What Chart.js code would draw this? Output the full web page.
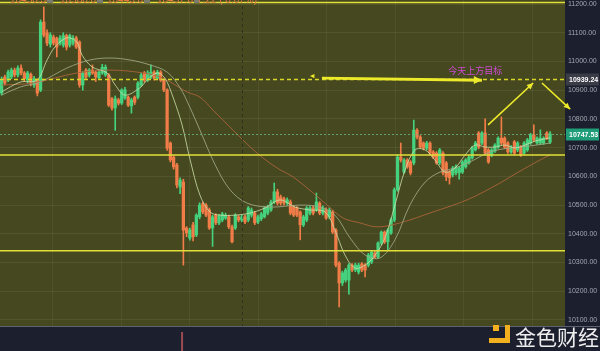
<!DOCTYPE html>
<html>
<head>
<meta charset="utf-8">
<script src="https://cdn.jsdelivr.net/npm/chart.js@4.4.0/dist/chart.umd.min.js"></script>
<style>
html,body{margin:0;padding:0;background:#1c1f2d;}
canvas{display:block;}
</style>
</head>
<body>
<canvas id="kline" width="600" height="351"></canvas>
<script>
// candle data, one entry per bar
let OPEN = [10890,10946,10935,10946,10970,10953,10977,10960,10935,10955,10918,10935,10900,11137,11100,11060,11085,11080,11064,11057,
  11090,11057,11064,11082,11068,10918,10970,10953,10970,10963,10943,10960,10953,10953,10870,10838,10866,10855,10873,10876,
  10845,10876,10876,10918,10960,10935,10946,10963,10942,10963,10935,10901,10716,10667,10640,10563,10580,10420,10385,10431,
  10396,10459,10505,10500,10483,10420,10465,10438,10448,10455,10459,10424,10420,10459,10448,10459,10448,10465,10472,10441,
  10452,10459,10472,10483,10511,10546,10528,10522,10507,10511,10493,10490,10476,10431,10448,10472,10490,10483,10507,10472,
  10483,10459,10476,10413,10298,10229,10239,10239,10291,10274,10267,10295,10291,10291,10302,10333,10319,10368,10406,10372,
  10403,10448,10553,10667,10615,10657,10650,10647,10761,10737,10716,10698,10716,10685,10681,10647,10681,10647,10615,10605,
  10612,10612,10615,10633,10647,10664,10692,10751,10716,10751,10692,10674,10688,10702,10733,10733,10716,10685,10720,10692,
  10702,10681,10692,10716,10744,10716,10716,10716,10751,10719];
let HIGH = [10946,10953,10970,10977,10977,10985,10988,10965,10966,10960,10948,10940,11145,11190,11110,11100,11092,11085,11090,11100,
  11095,11095,11090,11088,11072,10965,10975,10975,10988,10968,10968,10990,10988,10958,10875,10880,10872,10905,10910,10880,
  10872,10880,10930,10960,10965,10968,10988,10968,10970,10968,10940,10905,10720,10672,10645,10595,10590,10425,10420,10440,
  10470,10508,10510,10505,10490,10465,10470,10468,10475,10472,10465,10430,10470,10465,10465,10465,10495,10490,10478,10465,
  10475,10495,10500,10517,10577,10555,10535,10528,10525,10518,10498,10495,10480,10465,10495,10497,10497,10542,10512,10497,
  10490,10490,10482,10418,10303,10270,10280,10296,10296,10298,10298,10300,10296,10332,10342,10338,10372,10410,10410,10418,
  10455,10560,10675,10716,10662,10662,10655,10796,10766,10742,10720,10722,10720,10690,10686,10697,10686,10652,10620,10635,
  10640,10635,10655,10662,10672,10705,10722,10756,10756,10800,10697,10697,10714,10738,10807,10738,10721,10707,10725,10721,
  10707,10721,10732,10750,10779,10738,10762,10738,10756,10756];
let LOW = [10883,10918,10930,10940,10946,10946,10953,10930,10925,10915,10910,10880,10895,11085,11055,11050,11057,11016,11057,11050,
  11040,11050,11057,11045,10910,10900,10940,10946,10955,10930,10938,10955,10948,10843,10830,10760,10848,10850,10868,10843,
  10820,10850,10870,10912,10928,10930,10940,10935,10938,10930,10895,10690,10650,10625,10560,10540,10291,10390,10378,10375,
  10390,10452,10470,10460,10415,10356,10432,10432,10442,10450,10418,10368,10415,10442,10442,10435,10442,10458,10432,10435,
  10446,10455,10466,10478,10505,10500,10500,10500,10500,10466,10460,10460,10379,10425,10442,10466,10466,10478,10466,10466,
  10450,10452,10400,10285,10145,10220,10232,10190,10268,10268,10260,10268,10250,10285,10296,10314,10314,10362,10366,10345,
  10398,10442,10548,10650,10610,10628,10605,10640,10730,10698,10692,10692,10675,10662,10642,10640,10605,10585,10573,10598,
  10605,10590,10610,10628,10642,10660,10688,10696,10710,10675,10645,10668,10683,10697,10710,10697,10680,10680,10676,10686,
  10669,10676,10687,10711,10722,10711,10711,10711,10728,10714];
let CLOSE = [10935,10925,10963,10970,10953,10977,10960,10940,10960,10925,10940,10890,11137,11092,11064,11092,11064,11050,11082,11090,
  11050,11090,11082,11050,10918,10960,10946,10970,10960,10946,10963,10980,10980,10848,10838,10870,10855,10901,10901,10848,
  10866,10858,10925,10953,10935,10960,10963,10942,10963,10935,10901,10698,10657,10633,10570,10587,10413,10403,10413,10390,
  10465,10500,10476,10465,10420,10459,10438,10462,10469,10465,10424,10372,10465,10448,10459,10441,10490,10483,10438,10459,
  10469,10490,10493,10511,10546,10507,10507,10507,10518,10472,10465,10465,10431,10459,10490,10490,10472,10511,10472,10490,
  10455,10483,10406,10291,10229,10264,10274,10291,10274,10291,10291,10274,10274,10326,10336,10319,10368,10406,10372,10413,
  10448,10553,10667,10657,10657,10633,10612,10761,10737,10702,10698,10716,10681,10667,10647,10692,10612,10598,10595,10629,
  10633,10629,10650,10657,10667,10699,10716,10702,10751,10681,10650,10692,10709,10733,10716,10702,10685,10702,10681,10716,
  10674,10716,10727,10744,10727,10733,10733,10733,10733,10748];

// moving averages, read at a few points along each curve (bar index, price)
let MA_FAST = [[0,10894],[5.7,10928],[10.9,10935],[14,11005],[16.4,11050],[20.1,11082],[23.2,11068],[24.8,11022],[27.9,10981],
  [32.5,10960],[35,10918],[38,10883],[42.6,10908],[44.8,10935],[47.9,10960],[50.3,10942],[52.8,10876],[55.6,10779],[58.1,10657],
  [61.1,10535],[64.2,10476],[67.3,10465],[71.9,10465],[76.5,10472],[81.2,10490],[85.8,10518],[90.4,10493],[95,10483],[99.7,10476],
  [102.7,10413],[105.8,10326],[108.9,10281],[112,10291],[115.1,10326],[118.1,10385],[121.2,10500],[124.3,10622],[127.4,10692],
  [130.5,10692],[133.5,10657],[136.6,10615],[139.7,10629],[142.8,10674],[145.9,10709],[149,10702],[152,10702],[155.1,10709],
  [158.2,10699],[161.3,10709],[164.4,10723],[169,10734]];
let MA_MID = [[0,10883],[5.7,10911],[11.8,10928],[20.1,10977],[27.2,11005],[33.4,11012],[39.6,11005],[45.7,10988],[51,10963],
  [55,10908],[58.1,10838],[61.1,10761],[65.8,10640],[70.4,10553],[75.6,10507],[82.7,10493],[92,10500],[98.1,10493],[102.7,10465],
  [107.4,10385],[112,10326],[116.6,10316],[121.2,10379],[125.8,10500],[130.5,10580],[135.1,10615],[139.7,10629],[144.3,10650],
  [150.5,10685],[156.7,10699],[162.8,10706],[169,10716]];
let MA_SLOW = [[0,10918],[9.7,10925],[23.2,10960],[33.4,10970],[43.6,10960],[49.7,10942],[57.1,10894],[61.1,10876],[65.1,10831],
  [71.3,10761],[78.7,10681],[84.9,10629],[89.8,10598],[96,10542],[100.3,10500],[105.2,10455],[110.4,10438],[115.7,10424],
  [122.8,10438],[132.9,10476],[143.4,10518],[153.6,10577],[158.8,10612],[165.9,10657],[169,10674]];

// price axis ticks and drawn levels
let TICKS = [10100,10200,10300,10400,10500,10600,10700,10800,10900,11000,11100,11200];
let LEVELS = [11205, 10674, 10341];
let TARGET = 10939.24;
let LAST = 10747.53;
let HEADER = ['10450.34', '10580.00', '10443.03', '10457.61', '7.22 ( 0.07%)'];

// hand drawn arrows on the chart, in (bar index, price)
let ARROWS = [
  {from: [98.7, 10942], to: [148.0, 10935], w: 3},
  {from: [149.9, 10779], to: [163.8, 10925], w: 1.6},
  {from: [166.5, 10925], to: [175.2, 10834], w: 1.6}
];
let NOTE = {text: '今天上方目标', at: [137.6, 10967]};

const UP = '#45d27e';
const DOWN = '#f07c48';
const YELLOW = '#ecea2a';

let colors = CLOSE.map((c, i) => c >= OPEN[i] ? UP : DOWN);
let wicks = LOW.map((l, i) => ({x: i, y: [l, HIGH[i]]}));
let bodies = OPEN.map((o, i) => ({x: i, y: [Math.min(o, CLOSE[i]), Math.max(o, CLOSE[i])]}));
let toPts = arr => arr.map(p => ({x: p[0], y: p[1]}));

function arrowHead(ctx, x1, y1, x2, y2, size) {
  let a = Math.atan2(y2 - y1, x2 - x1);
  ctx.beginPath();
  ctx.moveTo(x2, y2);
  ctx.lineTo(x2 - size * Math.cos(a - 0.45), y2 - size * Math.sin(a - 0.45));
  ctx.lineTo(x2 - size * Math.cos(a + 0.45), y2 - size * Math.sin(a + 0.45));
  ctx.closePath();
  ctx.fill();
}

function priceTag(ctx, y, text, bg, fg) {
  ctx.fillStyle = bg;
  ctx.fillRect(566, y - 6, 33, 12);
  ctx.fillStyle = fg;
  ctx.font = 'bold 7px "Liberation Sans"';
  ctx.textAlign = 'left';
  ctx.textBaseline = 'middle';
  ctx.fillText(text, 569, y + 0.5);
}

// backgrounds: dark frame, olive plot
let background = {
  id: 'background',
  beforeDraw(chart) {
    let ctx = chart.ctx, a = chart.chartArea;
    ctx.save();
    ctx.fillStyle = '#1c1f2d';
    ctx.fillRect(0, 0, chart.width, chart.height);
    ctx.fillStyle = '#46481f';
    ctx.fillRect(a.left, a.top, a.right - a.left, a.bottom - a.top);
    ctx.restore();
  }
};

// levels, arrows, labels, watermark
let overlay = {
  id: 'overlay',
  afterDatasetsDraw(chart) {
    let ctx = chart.ctx, a = chart.chartArea;
    let xs = chart.scales.x, ys = chart.scales.y;
    ctx.save();

    // day separator
    let sx = Math.round(xs.getPixelForValue(74.1)) + 0.5;
    ctx.strokeStyle = 'rgba(20,22,30,0.45)';
    ctx.setLineDash([3, 3]);
    ctx.lineWidth = 1;
    ctx.beginPath(); ctx.moveTo(sx, 0); ctx.lineTo(sx, chart.height); ctx.stroke();

    // last price line
    let ly = Math.round(ys.getPixelForValue(LAST)) + 0.5;
    ctx.strokeStyle = 'rgba(110,190,140,0.75)';
    ctx.setLineDash([2, 2]);
    ctx.beginPath(); ctx.moveTo(a.left, ly); ctx.lineTo(a.right, ly); ctx.stroke();

    // target dashed line
    let ty = Math.round(ys.getPixelForValue(TARGET)) + 0.5;
    ctx.strokeStyle = '#d9d62a';
    ctx.lineWidth = 1.3;
    ctx.setLineDash([4, 3]);
    ctx.beginPath(); ctx.moveTo(a.left, ty); ctx.lineTo(a.right, ty); ctx.stroke();
    ctx.setLineDash([]);

    // solid levels
    ctx.strokeStyle = '#e3df3a';
    ctx.lineWidth = 1.5;
    LEVELS.forEach(v => {
      let y = ys.getPixelForValue(v);
      ctx.beginPath(); ctx.moveTo(a.left, y); ctx.lineTo(a.right, y); ctx.stroke();
    });

    // arrows
    ctx.strokeStyle = YELLOW;
    ctx.fillStyle = YELLOW;
    ARROWS.forEach(ar => {
      let x1 = xs.getPixelForValue(ar.from[0]), y1 = ys.getPixelForValue(ar.from[1]);
      let x2 = xs.getPixelForValue(ar.to[0]), y2 = ys.getPixelForValue(ar.to[1]);
      ctx.lineWidth = ar.w;
      ctx.beginPath(); ctx.moveTo(x1, y1); ctx.lineTo(x2, y2); ctx.stroke();
      arrowHead(ctx, x1, y1, x2, y2, ar.w > 2 ? 9 : 7);
    });
    // small left pointer in front of the long arrow
    let px = xs.getPixelForValue(95), py = ys.getPixelForValue(10949);
    arrowHead(ctx, px + 6, py, px, py, 5);

    // note
    ctx.fillStyle = '#d04ad6';
    ctx.font = '9px "Noto Sans CJK SC"';
    ctx.textAlign = 'left';
    ctx.textBaseline = 'middle';
    ctx.fillText(NOTE.text, xs.getPixelForValue(NOTE.at[0]), ys.getPixelForValue(NOTE.at[1]));

    // header ohlc, mostly cut off at the top
    ctx.font = '10px "Liberation Sans"';
    let hx = [10, 60, 107, 157, 197];
    HEADER.forEach((t, i) => {
      ctx.fillStyle = '#e07a44';
      ctx.fillText(t, hx[i], 0);
      if (i < 4) {
        ctx.fillStyle = '#7a7c70';
        ctx.fillRect(hx[i] + 37, -3, 6, 6);
      }
    });

    // bottom panel
    ctx.fillStyle = '#1c1f2e';
    ctx.fillRect(0, a.bottom, chart.width, chart.height - a.bottom);
    ctx.strokeStyle = '#5d6170';
    ctx.lineWidth = 1;
    ctx.beginPath(); ctx.moveTo(0, a.bottom + 0.5); ctx.lineTo(chart.width, a.bottom + 0.5); ctx.stroke();
    ctx.fillStyle = '#9a4a50';
    ctx.fillRect(xs.getPixelForValue(55.6) - 1, a.bottom + 6, 2, chart.height - a.bottom - 6);

    // price axis labels
    ctx.fillStyle = '#a3a7b2';
    ctx.font = '7px "Liberation Sans"';
    ctx.textAlign = 'left';
    ctx.textBaseline = 'middle';
    TICKS.forEach(v => ctx.fillText(v.toFixed(2), 568, ys.getPixelForValue(v)));

    // price tags
    priceTag(ctx, ty, TARGET.toFixed(2), '#3a3d48', '#ffffff');
    priceTag(ctx, ly, LAST.toFixed(2), '#1f9c78', '#ffffff');

    // watermark
    ctx.fillStyle = '#f2b01e';
    ctx.fillRect(493, 325, 6, 6);
    ctx.fillRect(505, 325, 5, 18);
    ctx.fillRect(489, 338, 21, 5);
    ctx.fillStyle = '#eeeeee';
    ctx.font = '21px "Noto Sans CJK SC"';
    ctx.textBaseline = 'middle';
    ctx.fillText('金色财经', 515, 337);
    ctx.restore();
  }
};

let chart = new Chart(document.getElementById('kline'), {
  type: 'bar',
  data: {
    datasets: [
      {type: 'line', data: toPts(MA_FAST), borderColor: 'rgba(205,225,170,0.8)', borderWidth: 1, pointRadius: 0, tension: 0.35, order: 1},
      {type: 'line', data: toPts(MA_MID), borderColor: 'rgba(160,170,135,0.85)', borderWidth: 1, pointRadius: 0, tension: 0.35, order: 1},
      {type: 'line', data: toPts(MA_SLOW), borderColor: 'rgba(170,100,60,0.9)', borderWidth: 1, pointRadius: 0, tension: 0.35, order: 1},
      {data: bodies, backgroundColor: colors, barThickness: 2.6, minBarLength: 1, grouped: false, order: 2},
      {data: wicks, backgroundColor: colors, barThickness: 1, grouped: false, order: 3}
    ]
  },
  options: {
    responsive: false,
    animation: false,
    layout: {padding: {top: 0, left: 0, right: 0, bottom: 25}},
    plugins: {legend: {display: false}, tooltip: {enabled: false}},
    scales: {
      x: {
        type: 'linear', min: -0.5, max: 173.6, offset: false,
        grid: {color: 'rgba(255,255,255,0.06)', drawTicks: false, offset: false},
        border: {display: false},
        ticks: {display: false},
        afterBuildTicks: s => {
          let t = [];
          for (let v = 15.8; v < 173; v += 21.1) t.push({value: v});
          s.ticks = t;
        }
      },
      y: {
        position: 'right', min: 10079, max: 11214,
        grid: {color: 'rgba(255,255,255,0.07)', drawTicks: false},
        border: {display: false},
        afterBuildTicks: s => { s.ticks = TICKS.map(v => ({value: v})); },
        afterFit: s => { s.width = 35; },
        ticks: {display: false}
      }
    }
  },
  plugins: [background, overlay]
});
</script>
</body>
</html>
